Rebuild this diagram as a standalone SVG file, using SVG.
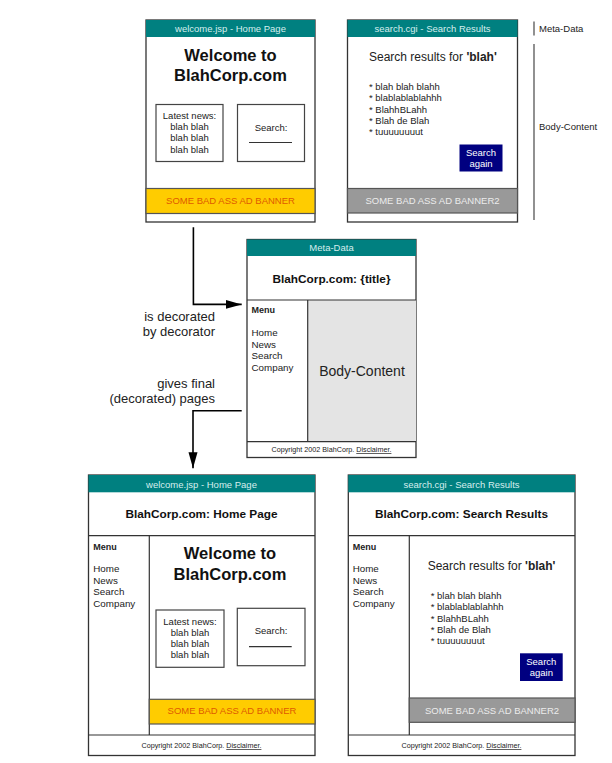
<svg xmlns="http://www.w3.org/2000/svg" width="612" height="763" viewBox="0 0 612 763">
<defs>
<style>
text{font-family:"Liberation Sans",Arial,sans-serif;fill:#222}
.frame{fill:#fff;stroke:#333;stroke-width:1.3}
.hdr{fill:#008080}
.hdrt{font-size:9.5px;fill:#d6eeee;text-anchor:middle}
.box{fill:#fff;stroke:#444;stroke-width:1.2}
.sep{stroke:#333;stroke-width:1.2;fill:none}
.c{text-anchor:middle}
.big{font-size:16.5px;font-weight:bold;fill:#111}
.sm{font-size:9.5px}
.ttl{font-size:11.8px;font-weight:bold;fill:#111;text-anchor:middle}
.menu{font-size:9px;font-weight:bold}
.mi{font-size:9.8px}
.ban{fill:#ffcc00;stroke:#555;stroke-width:1.2}
.bant{font-size:9.5px;fill:#e05a00;text-anchor:middle}
.ban2{fill:#999;stroke:#555;stroke-width:1.2}
.ban2t{font-size:9.5px;fill:#ececec;text-anchor:middle}
.btn{fill:#000080}
.btnt{font-size:9.5px;fill:#fff;text-anchor:middle}
.foot{font-size:7.2px;text-anchor:middle}
.lbl{font-size:13px;text-anchor:end}
.ann{stroke:#555;stroke-width:1.3}
.annt{font-size:9.5px}
.conn{fill:none;stroke:#000;stroke-width:1.6}
</style>
<marker id="ah" markerUnits="userSpaceOnUse" markerWidth="16" markerHeight="10" refX="16" refY="5" orient="auto">
<path d="M0,0.5 L16,5 L0,9.5 z" fill="#000"/>
</marker>
</defs>

<!-- Top-left: welcome.jsp -->
<g id="top-home">
<rect class="frame" x="146" y="20" width="169" height="202"/>
<rect class="hdr" x="146" y="20" width="169" height="17"/>
<text class="hdrt" x="230.5" y="32">welcome.jsp - Home Page</text>
<text class="big c" x="230.5" y="61">Welcome to</text>
<text class="big c" x="230.5" y="81">BlahCorp.com</text>
<rect class="box" x="156" y="104.5" width="67" height="57"/>
<text class="sm c" x="189.5" y="119">Latest news:</text>
<text class="sm c" x="189.5" y="130">blah blah</text>
<text class="sm c" x="189.5" y="141">blah blah</text>
<text class="sm c" x="189.5" y="152.5">blah blah</text>
<rect class="box" x="237.5" y="104.5" width="67" height="57"/>
<text class="sm c" x="271" y="130.5">Search:</text>
<line class="sep" x1="249" y1="142.5" x2="292" y2="142.5" stroke-width="1"/>
<rect class="ban" x="146" y="188.5" width="169" height="25"/>
<text class="bant" x="230.5" y="204">SOME BAD ASS AD BANNER</text>
</g>

<!-- Top-right: search.cgi -->
<g id="top-search">
<rect class="frame" x="347.5" y="20" width="170" height="202"/>
<rect class="hdr" x="347.5" y="20" width="170" height="17"/>
<text class="hdrt" x="432.5" y="32">search.cgi - Search Results</text>
<text x="369" y="61" font-size="12">Search results for <tspan font-weight="bold">'blah'</tspan></text>
<text class="sm" x="369" y="89.5">* blah blah blahh</text>
<text class="sm" x="369" y="101">* blablablablahhh</text>
<text class="sm" x="369" y="112.5">* BlahhBLahh</text>
<text class="sm" x="369" y="123.5">* Blah de Blah</text>
<text class="sm" x="369" y="135">* tuuuuuuuut</text>
<rect class="btn" x="459.5" y="144.5" width="43" height="27"/>
<text class="btnt" x="481" y="155.5">Search</text>
<text class="btnt" x="481" y="167">again</text>
<rect class="ban2" x="347.5" y="188.5" width="170" height="24.5"/>
<text class="ban2t" x="432.5" y="204">SOME BAD ASS AD BANNER2</text>
</g>

<!-- Annotations -->
<g id="annotations">
<line class="ann" x1="534" y1="21.5" x2="534" y2="35.5"/>
<text class="annt" x="539" y="32">Meta-Data</text>
<line class="ann" x1="534" y1="44" x2="534" y2="220"/>
<text class="annt" x="539" y="130">Body-Content</text>
</g>

<!-- Decorator -->
<g id="decorator">
<rect class="frame" x="247" y="239.5" width="169" height="218"/>
<rect x="307.7" y="300" width="108.3" height="141.7" fill="#e4e4e4"/>
<rect class="hdr" x="247" y="239.5" width="169" height="16.5"/>
<text class="hdrt" x="331.5" y="251">Meta-Data</text>
<text class="ttl" x="331.5" y="283" font-size="11.5px">BlahCorp.com: {title}</text>
<line class="sep" x1="247" y1="300" x2="416" y2="300"/>
<line class="sep" x1="307.7" y1="300" x2="307.7" y2="441.7"/>
<line class="sep" x1="247" y1="441.7" x2="416" y2="441.7"/>
<text class="menu" x="251.5" y="313">Menu</text>
<text class="mi" x="251.5" y="336">Home</text>
<text class="mi" x="251.5" y="347.5">News</text>
<text class="mi" x="251.5" y="359">Search</text>
<text class="mi" x="251.5" y="370.5">Company</text>
<text class="c" x="362" y="376" font-size="14">Body-Content</text>
<text class="foot" x="331.5" y="452">Copyright 2002 BlahCorp. <tspan text-decoration="underline">Disclaimer.</tspan></text>
</g>

<!-- Bottom-left: decorated home -->
<g id="final-home">
<rect class="frame" x="88.5" y="475" width="226.5" height="280.5"/>
<rect class="hdr" x="88.5" y="475" width="226.5" height="17.3"/>
<text class="hdrt" x="201.5" y="487.5">welcome.jsp - Home Page</text>
<text class="ttl" x="201.5" y="517.5">BlahCorp.com: Home Page</text>
<line class="sep" x1="88.5" y1="535.7" x2="315" y2="535.7"/>
<line class="sep" x1="149.3" y1="535.7" x2="149.3" y2="735"/>
<line class="sep" x1="88.5" y1="735" x2="315" y2="735"/>
<text class="menu" x="93.3" y="549.5">Menu</text>
<text class="mi" x="93.3" y="572">Home</text>
<text class="mi" x="93.3" y="583.5">News</text>
<text class="mi" x="93.3" y="595">Search</text>
<text class="mi" x="93.3" y="606.5">Company</text>
<text class="big c" x="230" y="559">Welcome to</text>
<text class="big c" x="230" y="580">BlahCorp.com</text>
<rect class="box" x="156" y="610" width="68" height="57.3"/>
<text class="sm c" x="190" y="624.5">Latest news:</text>
<text class="sm c" x="190" y="635.5">blah blah</text>
<text class="sm c" x="190" y="646.5">blah blah</text>
<text class="sm c" x="190" y="657.5">blah blah</text>
<rect class="box" x="237.3" y="608.3" width="67.7" height="57.4"/>
<text class="sm c" x="271" y="634">Search:</text>
<line class="sep" x1="249" y1="646.7" x2="291.7" y2="646.7" stroke-width="1"/>
<rect class="ban" x="149.3" y="699.3" width="165.7" height="24.7"/>
<text class="bant" x="232" y="714">SOME BAD ASS AD BANNER</text>
<text class="foot" x="201.5" y="748">Copyright 2002 BlahCorp. <tspan text-decoration="underline">Disclaimer.</tspan></text>
</g>

<!-- Bottom-right: decorated search -->
<g id="final-search">
<rect class="frame" x="348.3" y="475" width="226.7" height="280.5"/>
<rect class="hdr" x="348.3" y="475" width="226.7" height="17.3"/>
<text class="hdrt" x="461.5" y="487.5">search.cgi - Search Results</text>
<text class="ttl" x="461.5" y="517.5">BlahCorp.com: Search Results</text>
<line class="sep" x1="348.3" y1="535.7" x2="575" y2="535.7"/>
<line class="sep" x1="409.3" y1="535.7" x2="409.3" y2="735"/>
<line class="sep" x1="348.3" y1="735" x2="575" y2="735"/>
<text class="menu" x="352.7" y="549.5">Menu</text>
<text class="mi" x="352.7" y="572">Home</text>
<text class="mi" x="352.7" y="583.5">News</text>
<text class="mi" x="352.7" y="595">Search</text>
<text class="mi" x="352.7" y="606.5">Company</text>
<text x="427.7" y="570" font-size="12">Search results for <tspan font-weight="bold">'blah'</tspan></text>
<text class="sm" x="430.7" y="599">* blah blah blahh</text>
<text class="sm" x="430.7" y="610.3">* blablablablahhh</text>
<text class="sm" x="430.7" y="621.6">* BlahhBLahh</text>
<text class="sm" x="430.7" y="632.8">* Blah de Blah</text>
<text class="sm" x="430.7" y="644.3">* tuuuuuuuut</text>
<rect class="btn" x="520" y="653.3" width="42.7" height="27.7"/>
<text class="btnt" x="541.3" y="664.5">Search</text>
<text class="btnt" x="541.3" y="676">again</text>
<rect class="ban2" x="409.3" y="698" width="165.7" height="24.3"/>
<text class="ban2t" x="492" y="713.5">SOME BAD ASS AD BANNER2</text>
<text class="foot" x="461.5" y="748">Copyright 2002 BlahCorp. <tspan text-decoration="underline">Disclaimer.</tspan></text>
</g>

<!-- Connectors -->
<g id="connectors">
<path class="conn" d="M193.4,227.3 V304.4 H241.7" marker-end="url(#ah)"/>
<path class="conn" d="M241.7,410.7 H193 V468.3" marker-end="url(#ah)"/>
<text class="lbl" x="215" y="320.8">is decorated</text>
<text class="lbl" x="215" y="335.5">by decorator</text>
<text class="lbl" x="215" y="388.3">gives final</text>
<text class="lbl" x="215" y="402.8">(decorated) pages</text>
</g>
</svg>
